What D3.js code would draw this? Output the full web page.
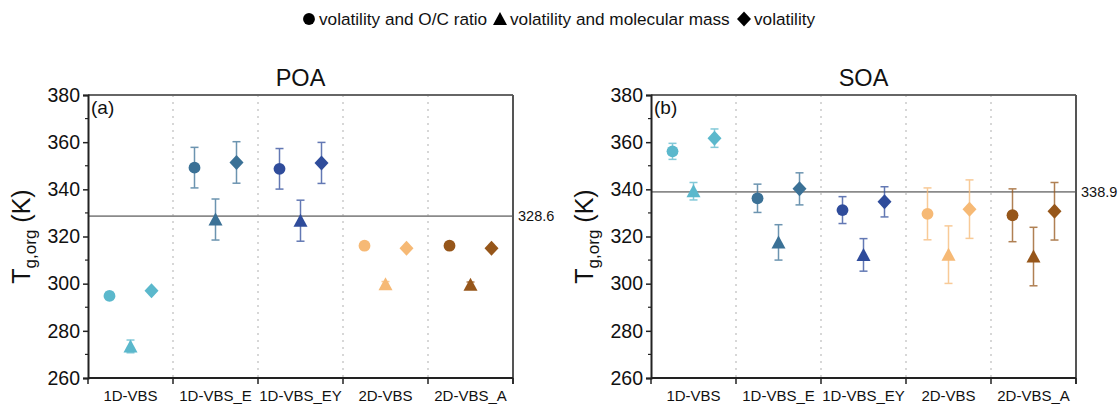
<!DOCTYPE html>
<html>
<head>
<meta charset="utf-8">
<script src="https://cdn.jsdelivr.net/npm/d3@7"></script>
<style>
  html, body { margin: 0; padding: 0; background: #fff; }
  svg { display: block; font-family: "Liberation Sans", Arial, sans-serif; }
</style>
</head>
<body>
<svg id="chart" width="1120" height="405"></svg>
<script>
// ---------- data ----------
const categories = ["1D-VBS", "1D-VBS_E", "1D-VBS_EY", "2D-VBS", "2D-VBS_A"];
const seriesNames = ["volatility and O/C ratio", "volatility and molecular mass", "volatility"];
const seriesShapes = ["circle", "triangle", "diamond"];
const categoryColors = ["#5bb8cc", "#3b7196", "#2f4c9b", "#f6b975", "#96561a"];
const yTicks = [260, 280, 300, 320, 340, 360, 380];

// POA
const poaOC      = [294.8, 349.2, 348.7, 316.1, 316.1];
const poaOCErr   = [1.5, 8.6, 8.6, 0.5, 0.5];
const poaMM      = [273.4, 327.2, 326.7, 299.7, 299.5];
const poaMMErr   = [2.7, 8.7, 8.7, 1.2, 1.2];
const poaV       = [297.0, 351.4, 351.2, 315.0, 315.0];
const poaVErr    = [0.8, 8.8, 8.7, 0.5, 0.5];
const poaRef = 328.6;

// SOA
const soaOC      = [356.1, 336.2, 331.2, 329.6, 329.0];
const soaOCErr   = [3.4, 6.0, 5.7, 11.0, 11.2];
const soaMM      = [339.2, 317.5, 312.2, 312.3, 311.5];
const soaMMErr   = [3.7, 7.5, 6.9, 12.2, 12.4];
const soaV       = [361.7, 340.2, 334.7, 331.6, 330.7];
const soaVErr    = [3.9, 6.8, 6.4, 12.4, 12.2];
const soaRef = 338.9;

const panels = [
  { title: "POA", tag: "(a)", left: 88, values: [poaOC, poaMM, poaV], errs: [poaOCErr, poaMMErr, poaVErr], ref: poaRef },
  { title: "SOA", tag: "(b)", left: 651, values: [soaOC, soaMM, soaV], errs: [soaOCErr, soaMMErr, soaVErr], ref: soaRef }
];

// ---------- layout ----------
const svg = d3.select("#chart");
const plotW = 425, plotTop = 95, plotBottom = 378;

function shapePath(shape) {
  if (shape === "circle") return d3.symbol(d3.symbolCircle, 110)();
  if (shape === "diamond") return "M0,-7.5L7,0L0,7.5L-7,0Z";
  // triangle, bbox-centered
  return "M0,-7L7,6L-7,6Z";
}

panels.forEach(p => {
  const g = svg.append("g").attr("transform", `translate(${p.left},0)`);
  const x = d3.scaleBand().domain(categories).range([0, plotW]).padding(0);
  const off = d3.scalePoint().domain(seriesNames).range([-21, 21]);
  const y = d3.scaleLinear().domain([260, 380]).range([plotBottom, plotTop]);

  // vertical dotted separators
  g.selectAll("line.sep").data(categories.slice(1)).enter().append("line")
    .attr("x1", d => x(d)).attr("x2", d => x(d))
    .attr("y1", plotTop).attr("y2", plotBottom)
    .attr("stroke", "#bdbdbd").attr("stroke-width", 1.2).attr("stroke-dasharray", "2,5");

  // reference line
  g.append("line").attr("x1", 0).attr("x2", plotW).attr("y1", y(p.ref)).attr("y2", y(p.ref))
    .attr("stroke", "#8a8a8a").attr("stroke-width", 1.8);
  g.append("text").attr("x", plotW + 5).attr("y", y(p.ref) + 5)
    .attr("font-size", 14.5).attr("fill", "#111").text(p.ref.toFixed(1));

  // frame top & right
  g.append("line").attr("x1", 0).attr("x2", plotW).attr("y1", plotTop).attr("y2", plotTop)
    .attr("stroke", "#666").attr("stroke-width", 2);
  g.append("line").attr("x1", plotW).attr("x2", plotW).attr("y1", plotTop).attr("y2", plotBottom + 6)
    .attr("stroke", "#555").attr("stroke-width", 2);

  // y axis
  const yAxis = d3.axisLeft(y).tickValues(yTicks).tickSize(5).tickPadding(3);
  const ya = g.append("g").call(yAxis);
  ya.select(".domain").attr("stroke", "#222").attr("stroke-width", 2);
  ya.selectAll(".tick line").attr("stroke", "#222").attr("stroke-width", 1.5);
  ya.selectAll(".tick text").attr("font-size", 19.5).attr("fill", "#111")
    .attr("font-family", "Liberation Sans, Arial, sans-serif");
  // minor ticks
  g.selectAll("line.minor").data(d3.range(270, 380, 20)).enter().append("line")
    .attr("x1", -3).attr("x2", 0).attr("y1", d => y(d)).attr("y2", d => y(d))
    .attr("stroke", "#222").attr("stroke-width", 1.2);

  // x axis (ticks at category boundaries)
  g.append("line").attr("x1", 0).attr("x2", plotW).attr("y1", plotBottom).attr("y2", plotBottom)
    .attr("stroke", "#222").attr("stroke-width", 2);
  const bounds = categories.map(c => x(c)).concat([plotW]);
  g.selectAll("line.xt").data(bounds).enter().append("line")
    .attr("x1", d => d).attr("x2", d => d).attr("y1", plotBottom).attr("y2", plotBottom + 6)
    .attr("stroke", "#222").attr("stroke-width", 1.5);
  g.selectAll("text.xl").data(categories).enter().append("text")
    .attr("x", d => x(d) + x.bandwidth() / 2).attr("y", 401)
    .attr("text-anchor", "middle").attr("font-size", 15).attr("fill", "#111").text(d => d);

  // data points
  seriesNames.forEach((s, si) => {
    const vals = p.values[si], errs = p.errs[si];
    const pts = categories.map((c, ci) => ({ c, ci, v: vals[ci], e: errs[ci] }));
    const cx = d => x(d.c) + x.bandwidth() / 2 + off(s);
    const eg = g.append("g").attr("opacity", 0.75);
    eg.selectAll("line.eb").data(pts).enter().append("line")
      .attr("x1", cx).attr("x2", cx).attr("y1", d => y(d.v - d.e)).attr("y2", d => y(d.v + d.e))
      .attr("stroke", d => categoryColors[d.ci]).attr("stroke-width", 1.5);
    [-1, 1].forEach(sg => {
      eg.selectAll("line.cap" + sg).data(pts).enter().append("line")
        .attr("x1", d => cx(d) - 4).attr("x2", d => cx(d) + 4)
        .attr("y1", d => y(d.v + sg * d.e)).attr("y2", d => y(d.v + sg * d.e))
        .attr("stroke", d => categoryColors[d.ci]).attr("stroke-width", 1.5);
    });
    g.selectAll("path.m" + si).data(pts).enter().append("path")
      .attr("d", shapePath(seriesShapes[si]))
      .attr("transform", d => `translate(${cx(d)},${y(d.v)})`)
      .attr("fill", d => categoryColors[d.ci]);
  });

  // panel tag
  g.append("text").attr("x", 3).attr("y", 114).attr("font-size", 19).attr("fill", "#111").text(p.tag);
  // title
  g.append("text").attr("x", plotW / 2).attr("y", 86).attr("text-anchor", "middle")
    .attr("font-size", 23.5).attr("fill", "#111").text(p.title);

  // y label
  const yl = g.append("text").attr("transform", `translate(-58,${(plotTop + plotBottom) / 2}) rotate(-90)`)
    .attr("text-anchor", "middle").attr("font-size", 25).attr("fill", "#111");
  yl.append("tspan").text("T");
  yl.append("tspan").attr("font-size", 17).attr("dy", 6).text("g,org");
  yl.append("tspan").attr("dy", -6).text(" (K)");
});

// ---------- legend ----------
const legend = svg.append("g").attr("transform", "translate(0,25)");
const legendItems = [
  { x: 309, shape: "circle", label: seriesNames[0] },
  { x: 500, shape: "triangle", label: seriesNames[1] },
  { x: 744, shape: "diamond", label: seriesNames[2] }
];
legendItems.forEach(it => {
  legend.append("path").attr("d", shapePath(it.shape))
    .attr("transform", `translate(${it.x},-6)`).attr("fill", "#000");
  legend.append("text").attr("x", it.x + 10).attr("y", 0).attr("font-size", 17.2).attr("fill", "#111").text(it.label);
});
</script>
</body>
</html>
